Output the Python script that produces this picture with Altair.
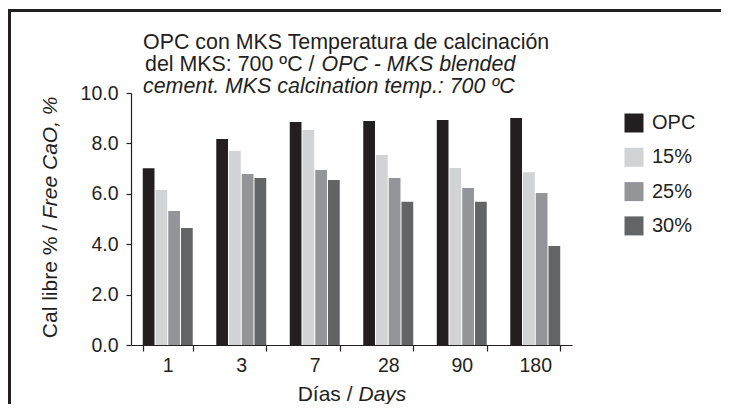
import altair as alt
import pandas as pd

# ---- data ----
days = ["1", "3", "7", "28", "90", "180"]
series = ["OPC", "15%", "25%", "30%"]
opc = [7.01, 8.17, 8.85, 8.89, 8.93, 9.01]
p15 = [6.15, 7.70, 8.53, 7.54, 7.02, 6.86]
p25 = [5.32, 6.79, 6.94, 6.63, 6.23, 6.03]
p30 = [4.64, 6.63, 6.55, 5.68, 5.68, 3.93]
colors = ["#231f20", "#d1d3d4", "#939598", "#636466"]
y_ticks = [0, 2, 4, 6, 8, 10]

title_l1 = "OPC con MKS Temperatura de calcinación"
title_l2a = "del MKS: 700 ºC /"
title_l2b = "OPC - MKS blended"
title_l3 = "cement. MKS calcination temp.: 700 ºC"
ytitle_a = "Cal libre % /"
ytitle_b = "Free CaO, %"
xtitle_a = "Días /"
xtitle_b = "Days"

rows = []
for s, vals in zip(series, [opc, p15, p25, p30]):
    for d, v in zip(days, vals):
        rows.append({"day": d, "serie": s, "value": v})
df = pd.DataFrame(rows)

INK = "#231f20"
FONT = "Liberation Sans"

bars = alt.Chart(df).mark_bar().encode(
    x=alt.X("day:N", sort=days,
            scale=alt.Scale(paddingInner=0.32, paddingOuter=0.16),
            axis=alt.Axis(title=None, labelAngle=0, tickBand="extent",
                          tickSize=6, labelPadding=5, labelFontSize=19.5,
                          domainColor=INK, tickColor=INK, labelColor=INK,
                          domainWidth=1.2, tickWidth=1.2, labelFont=FONT,
                          grid=False)),
    xOffset=alt.XOffset("serie:N", sort=series,
                        scale=alt.Scale(paddingInner=0.08, paddingOuter=0)),
    y=alt.Y("value:Q", scale=alt.Scale(domain=[0, 10], nice=False),
            axis=alt.Axis(title=None, values=y_ticks, format=".1f",
                          tickSize=5, labelPadding=8, labelFontSize=19.5,
                          domainColor=INK, tickColor=INK, labelColor=INK,
                          domainWidth=1.2, tickWidth=1.2, labelFont=FONT,
                          grid=False)),
    color=alt.Color("serie:N", sort=series,
                    scale=alt.Scale(domain=series, range=colors),
                    legend=alt.Legend(title=None, orient="none",
                                      legendX=493, legendY=20,
                                      symbolType="square", symbolSize=361,
                                      symbolStrokeWidth=0, symbolOpacity=1,
                                      labelFontSize=20, labelFont=FONT,
                                      labelColor=INK, labelOffset=8,
                                      rowPadding=14.3, padding=0)),
)

one = alt.Data(values=[{"k": 1}])


def txt(s, x, y, italic=False, align="left", angle=0, size=21.4):
    kw = dict(align=align, baseline="alphabetic", fontSize=size, font=FONT,
              color=INK)
    if italic:
        kw["fontStyle"] = "italic"
    if angle:
        kw["angle"] = angle
    return alt.Chart(one).mark_text(**kw).encode(
        x=alt.value(x), y=alt.value(y), text=alt.value(s))


frame_left = alt.Chart(one).mark_rule(color=INK, strokeWidth=3).encode(
    x=alt.value(-121.5), y=alt.value(-84), y2=alt.value(311))
frame_top = alt.Chart(one).mark_rule(color=INK, strokeWidth=3).encode(
    x=alt.value(-123), x2=alt.value(590), y=alt.value(-82.5))

layers = [
    frame_left,
    frame_top,
    bars,
    txt(title_l1, 12, -44),
    txt(title_l2a, 183.5, -22, align="right"),
    txt(title_l2b, 190.5, -22, italic=True),
    txt(title_l3, 12, 0, italic=True),
    txt(xtitle_a, 221.5, 308, align="right", size=21),
    txt(xtitle_b, 227.5, 308, italic=True, size=21),
    txt(ytitle_a, -74, 132, align="right", angle=270, size=21),
    txt(ytitle_b, -74, 126, italic=True, angle=270, size=21),
]

chart = alt.layer(*layers).properties(
    width=441, height=252,
    padding={"left": 123, "top": 85, "right": 149, "bottom": 59},
    autosize=alt.AutoSizeParams(type="none"),
    background="white",
).configure_view(stroke=None)

chart.save("out.html", embed_options={"renderer": "svg", "actions": False})
